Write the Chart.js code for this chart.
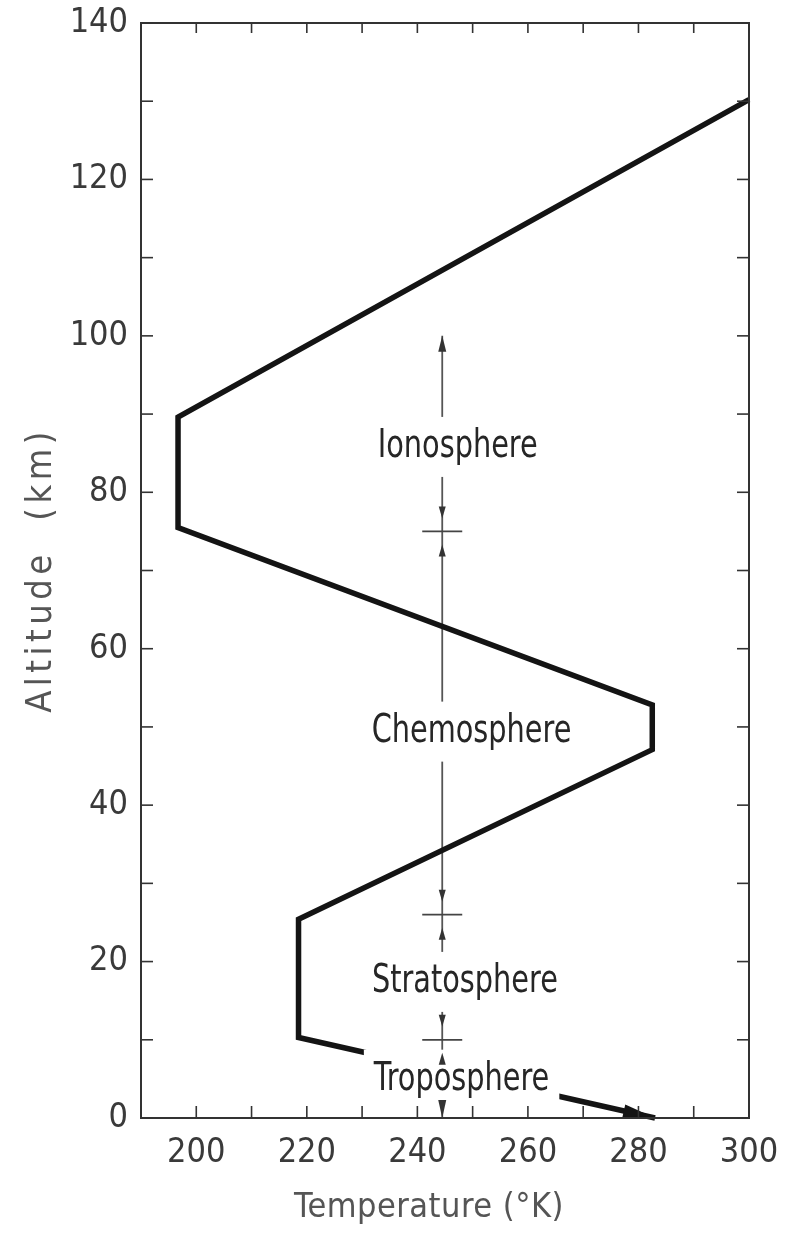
<!DOCTYPE html>
<html lang="en">
<head>
<meta charset="UTF-8">
<title>Atmosphere temperature profile</title>
<script src="https://cdn.jsdelivr.net/npm/chart.js@4.4.0/dist/chart.umd.min.js"></script>
<style>
  *{margin:0;padding:0;box-sizing:border-box}
  body{background:#fff;width:801px;height:1234px;overflow:hidden}
</style>
</head>
<body>
<canvas id="atmo" width="801" height="1234"></canvas>
<script>
/* profile: temperature (K) vs altitude (km), corner points */
const tempK  = [283, 218.5, 218.5, 282.5, 282.5, 196.7, 196.7, 300];
const altKm  = [0, 10.3, 25.4, 47.1, 52.8, 75.5, 89.6, 130.2];

/* region bracket on the right of the curve */
const bracketT    = 244.5;
const bracketAlt  = [0, 100];
const boundaryAlt = [10, 26, 75];

const regionNames = ['Ionosphere', 'Chemosphere', 'Stratosphere', 'Troposphere'];
const regionT     = [247.3, 249.8, 248.6, 248.0];
const regionAlt   = [85.8, 49.4, 17.4, 4.9];

const xTitle = 'Temperature (°K)';
const yTitle = 'Altitude  (km)';

const LETTER = "'DejaVu Sans Condensed','DejaVu Sans',sans-serif";

function head(ctx, tx, ty, dx, dy, len, hw){
  const n = Math.hypot(dx, dy); dx /= n; dy /= n;
  ctx.beginPath();
  ctx.moveTo(tx, ty);
  ctx.lineTo(tx - dx*len - dy*hw, ty - dy*len + dx*hw);
  ctx.lineTo(tx - dx*len + dy*hw, ty - dy*len - dx*hw);
  ctx.closePath();
  ctx.fill();
}
function seg(ctx, x1, y1, x2, y2){ ctx.beginPath(); ctx.moveTo(x1, y1); ctx.lineTo(x2, y2); ctx.stroke(); }

const sketch = {
  id: 'sketch',
  afterDatasetsDraw(chart){
    const {ctx, chartArea: a, scales: {x, y}} = chart;
    ctx.save();

    // region names (narrow lettering), white box breaks the lines behind them
    const squeeze = 0.82;
    ctx.font = `39px ${LETTER}`;
    ctx.textAlign = 'center';
    ctx.textBaseline = 'alphabetic';
    regionNames.forEach((name, i) => {
      const px = x.getPixelForValue(regionT[i]), py = y.getPixelForValue(regionAlt[i]);
      const w = ctx.measureText(name).width * squeeze;
      ctx.fillStyle = '#fff';
      ctx.fillRect(px - w/2 - 10, py - 30, w + 20, 60);
      ctx.save();
      ctx.translate(px, py + 10);
      ctx.scale(squeeze, 1);
      ctx.fillStyle = '#262626';
      ctx.fillText(name, 0, 0);
      ctx.restore();
    });

    // bracket arrows and boundary crosses
    const bx = x.getPixelForValue(bracketT);
    ctx.fillStyle = '#333';
    ctx.strokeStyle = '#444';
    ctx.lineWidth = 1.8;
    head(ctx, bx, y.getPixelForValue(bracketAlt[1]), 0, -1, 16, 4);
    head(ctx, bx, y.getPixelForValue(bracketAlt[0]), 0, 1, 18, 4);
    boundaryAlt.forEach(h => {
      const py = y.getPixelForValue(h);
      seg(ctx, bx - 20, py, bx + 20, py);
      head(ctx, bx, py - 13, 0, 1, 12, 3.5);
      head(ctx, bx, py + 13, 0, -1, 12, 3.5);
    });

    // arrow tip at the ground end of the profile
    const p0x = x.getPixelForValue(tempK[0]), p0y = y.getPixelForValue(altKm[0]);
    const p1x = x.getPixelForValue(tempK[1]), p1y = y.getPixelForValue(altKm[1]);
    ctx.fillStyle = '#141414';
    head(ctx, p0x, p0y, p0x - p1x, p0y - p1y, 32, 6.5);

    // frame and inward ticks on all four sides
    ctx.strokeStyle = '#333';
    ctx.lineWidth = 2;
    ctx.strokeRect(a.left, a.top, a.right - a.left, a.bottom - a.top);
    ctx.lineWidth = 1.6;
    x.ticks.forEach(t => {
      const px = x.getPixelForValue(t.value);
      seg(ctx, px, a.bottom, px, a.bottom - 12);
      seg(ctx, px, a.top, px, a.top + 10);
    });
    y.ticks.forEach(t => {
      const py = y.getPixelForValue(t.value);
      seg(ctx, a.left, py, a.left + 12, py);
      seg(ctx, a.right, py, a.right - 12, py);
    });

    // axis titles
    ctx.fillStyle = '#555';
    ctx.textAlign = 'center';
    ctx.textBaseline = 'middle';
    ctx.font = `34px ${LETTER}`;
    ctx.letterSpacing = '0.5px';
    ctx.fillText(xTitle, a.left + 288, a.bottom + 90);
    ctx.translate(42, 570);
    ctx.rotate(-Math.PI/2);
    ctx.font = `36px ${LETTER}`;
    ctx.letterSpacing = '4.5px';
    ctx.fillText(yTitle, 0, 0);
    ctx.restore();
  }
};

const tickFont = {family: LETTER, size: 34};

new Chart(document.getElementById('atmo'), {
  type: 'scatter',
  data: {
    datasets: [
      {
        data: tempK.map((t, i) => ({x: t, y: altKm[i]})),
        showLine: true, borderColor: '#141414', borderWidth: 5.5,
        pointRadius: 0, borderJoinStyle: 'miter', clip: false
      },
      {
        data: bracketAlt.map(h => ({x: bracketT, y: h})),
        showLine: true, borderColor: '#555', borderWidth: 1.8, pointRadius: 0
      }
    ]
  },
  options: {
    responsive: false,
    animation: false,
    events: [],
    layout: {padding: {top: 23, right: 52, left: 0, bottom: 0}},
    plugins: {legend: {display: false}, tooltip: {enabled: false}},
    scales: {
      x: {
        type: 'linear', min: 190, max: 300,
        afterFit(s){ s.height = 116; s.paddingLeft = 0; s.paddingRight = 0; },
        grid: {display: false, drawTicks: false},
        border: {display: false},
        ticks: {
          stepSize: 10, autoSkip: false, maxRotation: 0, padding: 15,
          color: '#3a3a3a', font: tickFont,
          callback: v => (v % 20 === 0 && v >= 200) ? String(v) : ''
        }
      },
      y: {
        type: 'linear', min: 0, max: 140,
        afterFit(s){ s.width = 141; s.paddingTop = 0; s.paddingBottom = 0; },
        grid: {display: false, drawTicks: false},
        border: {display: false},
        ticks: {
          stepSize: 10, autoSkip: false, padding: 13,
          color: '#3a3a3a', font: tickFont,
          callback: v => v % 20 === 0 ? String(v) : ''
        }
      }
    }
  },
  plugins: [sketch]
});
</script>
</body>
</html>
